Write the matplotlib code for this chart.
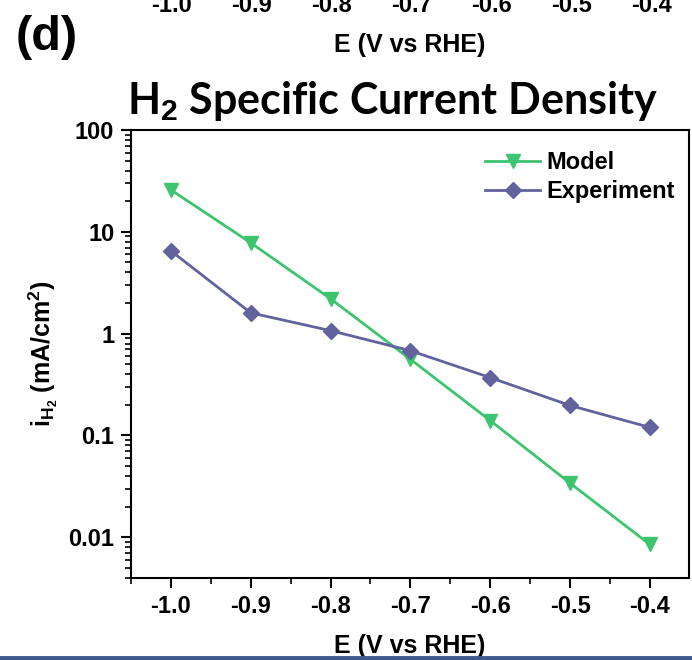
import matplotlib
matplotlib.use("Agg")
import matplotlib.pyplot as plt
from matplotlib.ticker import LogLocator, MultipleLocator, FixedLocator, NullFormatter

plt.rcParams['font.family'] = ['Liberation Sans', 'DejaVu Sans']
plt.rcParams['mathtext.fontset'] = 'custom'
plt.rcParams['mathtext.rm'] = 'Liberation Sans:bold'
plt.rcParams['mathtext.bf'] = 'Liberation Sans:bold'

potential = [-1.0, -0.9, -0.8, -0.7, -0.6, -0.5, -0.4]
model = [25.8, 7.8, 2.2, 0.56, 0.14, 0.034, 0.0085]
experiment = [6.5, 1.6, 1.07, 0.68, 0.37, 0.197, 0.12]
xtick_labels = ["-1.0", "-0.9", "-0.8", "-0.7", "-0.6", "-0.5", "-0.4"]
ytick_vals = [0.01, 0.1, 1, 10, 100]
ytick_labels = ["0.01", "0.1", "1", "10", "100"]

green = '#3DC46E'
purple = '#62629C'

fig = plt.figure(figsize=(6.92, 6.60), dpi=100)
ax = fig.add_axes([131/692, 1-578/660, (689-131)/692, (578-130)/660])

ax.plot(potential, model, color=green, lw=2, marker='v', ms=10, label='Model')
ax.plot(potential, experiment, color=purple, lw=2, marker='D', ms=8, label='Experiment')

ax.set_yscale('log')
ax.set_xlim(-1.05, -0.351)
ax.set_ylim(10**(-2.40), 100)

ax.xaxis.set_major_locator(FixedLocator(potential))
ax.set_xticklabels(xtick_labels)
ax.xaxis.set_minor_locator(MultipleLocator(0.05))
ax.yaxis.set_major_locator(FixedLocator(ytick_vals))
ax.set_yticklabels(ytick_labels)
ax.yaxis.set_minor_locator(LogLocator(base=10, subs=range(2, 10)))
ax.yaxis.set_minor_formatter(NullFormatter())

ax.tick_params(which='major', direction='out', length=7, width=1.5, labelsize=17, pad=5)
ax.tick_params(which='minor', direction='out', length=4, width=1.2)
ax.tick_params(top=False, right=False)
for lab in ax.get_xticklabels() + ax.get_yticklabels():
    lab.set_fontweight('bold')
for s in ax.spines.values():
    s.set_linewidth(1.5)

ax.set_xlabel('E (V vs RHE)', fontsize=18, fontweight='bold', labelpad=12)
ax.set_ylabel(r'i$_{\mathrm{H}_2}$ (mA/cm$^2$)', fontsize=18, fontweight='bold', labelpad=6)

ax.legend(loc='upper right', frameon=False, prop={'weight': 'bold', 'size': 17},
          handlelength=2.3, borderaxespad=0.3, labelspacing=0.25, handletextpad=0.3,
          bbox_to_anchor=(1.005, 0.99))

fig.text(392/692, 1-101/660, r'H$_{\mathbf{2}}$ Specific Current Density', ha='center', va='center',
         fontsize=31, fontweight='bold', family=['Lato', 'DejaVu Sans'],
         math_fontfamily='custom')

# remnants of the panel above (cut off at the top edge, as in the reference)
for xv, lab in zip(potential, xtick_labels):
    xpix = 171 + (xv + 1.0) * 800
    fig.text(xpix/692, 1-5/660, lab, ha='center', va='center', fontsize=17, fontweight='bold')
fig.text(410/692, 1-45/660, 'E (V vs RHE)', ha='center', va='center', fontsize=18, fontweight='bold')
fig.text(16/692, 1-38/660, '(d)', ha='left', va='center', fontsize=35, fontweight='bold')

# bottom bar
fig.add_artist(plt.Line2D([0, 1], [2/660, 2/660], color='#3F5A8A', lw=3.5, transform=fig.transFigure))

fig.savefig('out.png', dpi=100)
